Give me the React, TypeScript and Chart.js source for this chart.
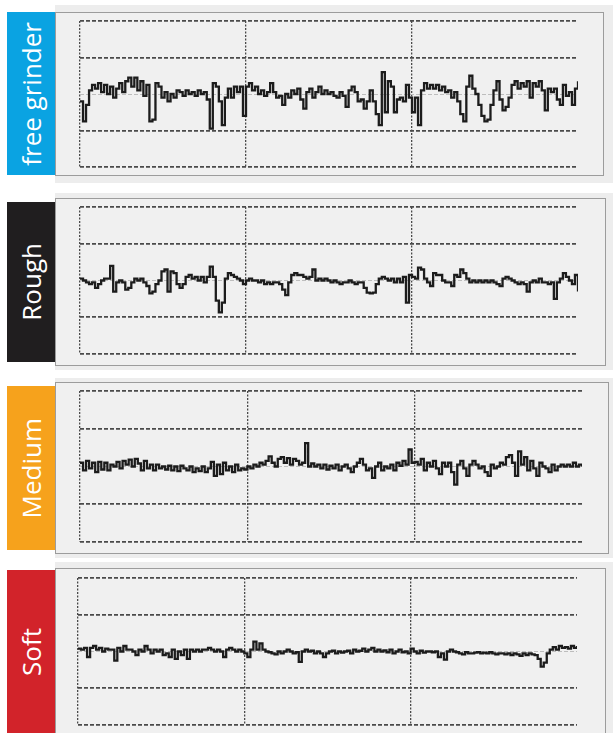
import React, { useEffect, useRef } from "react";
import { Chart, registerables } from "chart.js";

Chart.register(...registerables);

// ---- data ----
const PANEL_NAMES = ["free grinder", "Rough", "Medium", "Soft"];
const PANEL_COLORS = ["#0aa3e2", "#201e1f", "#f6a21c", "#d2232a"];
const Y_TICKS = [-2, -1, 0, 1, 2];

const FREE_GRINDER = [
  -0.2, -0.75, -0.3, 0.1, 0.25, 0.15, 0.3, 0.05, 0.25, 0.0,
  0.2, -0.1, 0.15, 0.3, 0.05, 0.35, 0.45, 0.2, 0.45, 0.1,
  0.35, -0.05, 0.25, -0.75, -0.7, 0.3, 0.2, -0.1, 0.05, -0.2,
  0.0, -0.1, 0.1, 0.05, -0.05, 0.1, 0.0, 0.05, -0.05, 0.1,
  0.0, 0.05, -0.15, -0.95, 0.3, 0.2, -0.2, -0.85, -0.1, 0.15,
  -0.1, 0.2, 0.05, 0.2, -0.6,
  0.2, 0.3, 0.1, 0.2, 0.0, 0.1, -0.05, 0.05, 0.3, 0.05,
  -0.1, -0.05, -0.3, 0.0, -0.1, 0.1, 0.0, 0.15, -0.15, -0.4,
  0.05, 0.15, -0.1, 0.05, 0.2, 0.0, 0.1, 0.0, 0.05, -0.05,
  -0.1, 0.05, -0.05, -0.35, 0.1, 0.2, 0.05, -0.2, -0.15, -0.4,
  -0.2, 0.1, -0.2, -0.55, -0.85, 0.6, -0.5, 0.35, 0.2, -0.5,
  -0.15, -0.1, -0.2, 0.25, -0.1,
  -0.5, -0.1, -0.85, 0.1, 0.3, 0.15, 0.25, 0.15, 0.25, 0.1,
  0.2, 0.05, 0.1, -0.1, 0.05, -0.2, -0.55, -0.75, 0.2, 0.5,
  0.15, 0.0, -0.3, -0.6, -0.75, -0.7, -0.3, 0.1, 0.35, -0.15,
  -0.45, -0.35, -0.1, 0.25, 0.35, 0.15, 0.3, 0.2, 0.35, -0.1,
  0.3, 0.2, 0.35, 0.1, -0.45, 0.15, 0.05, 0.15, -0.15, -0.3,
  0.25, -0.05, 0.05, -0.3, 0.15, 0.35,
];

const ROUGH = [
  0.05, 0.0, -0.05, -0.1, -0.05, -0.2, -0.1, 0.0, 0.05, 0.05,
  0.4, -0.3, -0.05, 0.0, -0.05, -0.25, -0.2, -0.05, 0.05, 0.0,
  0.05, -0.05, -0.15, -0.35, -0.3, -0.1, 0.0, 0.25, 0.3, -0.3,
  0.25, 0.2, -0.1, -0.2, -0.1, 0.1, 0.15, 0.05, 0.1, 0.0,
  0.1, -0.05, 0.1, 0.38, 0.1, -0.55, -0.87, -0.6, 0.05, 0.2,
  0.15, 0.1, 0.05, 0.0, -0.1,
  0.0, 0.05, 0.0, 0.0, -0.05, 0.0, -0.1, -0.05, -0.1, -0.05,
  -0.05, -0.1, -0.25, -0.4, -0.05, 0.15, 0.2, 0.15, 0.15, 0.1,
  0.05, 0.1, 0.3, 0.0, 0.05, 0.0,
  0.05, 0.0, -0.05, 0.0, -0.05, -0.1, -0.05, -0.05, 0.0, -0.05,
  -0.1, -0.05, -0.05, -0.2, -0.33, -0.35, -0.33, -0.1, 0.05, 0.1,
  0.05, 0.0, 0.05, -0.05, 0.05, -0.05, 0.1, -0.6, 0.15,
  0.1, 0.05, 0.35, 0.3, 0.05, -0.05, -0.15, 0.2, 0.15, 0.15,
  0.0, -0.05, -0.05, -0.15, 0.15, 0.1, 0.3, 0.2, 0.05, -0.05,
  0.0, -0.05, 0.0, -0.05, 0.0, -0.05, 0.0, -0.05, -0.1, -0.15,
  0.05, 0.1, 0.05, 0.0, -0.05, -0.1, -0.05, -0.1, -0.3, -0.05,
  0.0, -0.05, 0.05, -0.05, -0.05, -0.1, -0.05, -0.5, -0.05, 0.05,
  0.2, 0.1, 0.0, -0.1, 0.15, -0.3,
];

const MEDIUM = [
  0.1, -0.1, 0.15, -0.05, 0.1, -0.15, 0.12, -0.08, 0.1, -0.1, 0.05,
  0.0, 0.12, -0.05, 0.15, 0.05, 0.18, 0.0, 0.2, 0.08, -0.1,
  0.15, -0.05, 0.05, -0.1, 0.05, -0.05, 0.0, -0.08, 0.02, -0.1,
  0.0, -0.12, 0.02, -0.05, -0.1, 0.0, -0.15, -0.05, -0.12, 0.0,
  -0.15, -0.05, 0.12, -0.25, 0.05, -0.2, 0.1, -0.1, 0.0, -0.15, 0.05, -0.1, -0.05, -0.08,
  0.0, -0.05, 0.05, 0.0, 0.1, 0.05, 0.15, 0.27, 0.1, 0.0,
  0.2, 0.25, 0.1, 0.22, 0.05, 0.2, 0.15, 0.05, 0.1, 0.62,
  0.0, 0.08, 0.0, 0.05, -0.05, 0.05, -0.08, 0.02, -0.05, 0.05,
  -0.1, 0.0, 0.05, -0.05, -0.15, 0.0, 0.1, 0.2, 0.05, -0.1,
  -0.05, -0.3, 0.0, 0.1, -0.1, 0.0, -0.05, 0.05, -0.1, 0.1,
  0.02, 0.15, 0.05, 0.45, 0.1,
  0.12, 0.05, 0.2, -0.1, 0.1, 0.0, 0.15, -0.05, -0.2, 0.1,
  0.0, 0.1, -0.15, -0.48, 0.05, 0.15, -0.05, -0.25, 0.05, 0.15,
  0.05, -0.05, 0.0, -0.15, -0.25, 0.05, -0.05, 0.0, 0.1, 0.05,
  0.25, 0.3, 0.1, -0.25, 0.4, 0.05, 0.25, -0.1, 0.15, -0.05,
  -0.25, 0.1, 0.0, -0.05, -0.15, 0.05, -0.1, 0.0, 0.05, 0.0,
  0.05, 0.0, 0.1, 0.0, 0.05, 0.0,
];

const SOFT = [
  0.08, 0.05, 0.1, -0.15, 0.1, 0.15, 0.05, 0.1, 0.0, 0.08,
  0.05, 0.05, -0.25, 0.1, 0.0, 0.15, 0.05, 0.05, 0.0, -0.1,
  0.05, 0.0, 0.15, 0.05, -0.05, 0.05, 0.0, 0.05, -0.1, -0.05,
  -0.15, 0.05, -0.2, 0.0, -0.1, 0.05, -0.2, 0.05, 0.0, 0.05,
  0.0, 0.05, 0.05, 0.1, 0.05, 0.0, 0.05, 0.0, -0.15, 0.05,
  0.1, 0.05, 0.0, 0.05, 0.0,
  -0.05, -0.15, 0.05, 0.27, 0.05, 0.22, 0.05, 0.0, -0.02, -0.05,
  -0.08, 0.0, -0.05, 0.0, 0.05, 0.0, -0.05, -0.02, -0.28, 0.0,
  0.05, 0.0, 0.02, -0.05, 0.0, -0.05, -0.15, -0.05, 0.0, 0.02,
  -0.05, 0.0, -0.03, 0.0, 0.02, -0.05, 0.05, 0.0, 0.02, 0.08,
  0.0, 0.05, 0.1, 0.0, 0.05, 0.0, 0.03, -0.02, 0.05, -0.05,
  0.0, 0.05, -0.02, 0.0, -0.05,
  0.08, 0.0, -0.05, 0.02, -0.03, 0.0, 0.0, -0.02, 0.0, -0.15,
  -0.05, -0.22, 0.0, 0.05, 0.0, -0.02, -0.05, -0.08, -0.02, -0.05,
  -0.05, -0.03, -0.02, -0.05, -0.03, -0.05, -0.02, -0.05, -0.08, -0.05,
  -0.05, -0.08, -0.05, -0.1, -0.05, -0.08, -0.12, -0.05, -0.1, -0.05,
  -0.08, -0.1, -0.2, -0.41, -0.3, -0.05, 0.05, 0.12, 0.05, 0.15,
  0.1, 0.12, 0.08, 0.15, 0.1, 0.15,
];

const SERIES = [FREE_GRINDER, ROUGH, MEDIUM, SOFT];

// ---- layout (px in the 614x733 page) ----
const LAYOUT = [
  { label: [12, 175], page: [5, 183], box: [12, 176, 604], grid: [80, 578, 21, 167] },
  { label: [202, 362], page: [193, 370], box: [198, 366, 606], grid: [80, 578, 207, 354] },
  { label: [386, 550], page: [378, 558], box: [382, 554, 609], grid: [80, 582, 391, 542] },
  { label: [570, 733], page: [562, 733], box: [568, 745, 606], grid: [78, 577, 578, 725] },
];

const PAD = 3;

function Trace({ values, left, right, top, bottom }: any) {
  const ref = useRef<HTMLCanvasElement>(null);
  const w = right - left + PAD * 2;
  const h = bottom - top + PAD * 2;
  useEffect(() => {
    const n = values.length - 1;
    const chart = new Chart(ref.current as HTMLCanvasElement, {
      type: "line",
      data: {
        datasets: [
          {
            data: values.map((v: number, i: number) => ({ x: i, y: v })),
            borderColor: "#1c1c1c",
            borderWidth: 2.3,
            pointRadius: 0,
            stepped: true,
            fill: false,
            borderJoinStyle: "miter",
          },
        ],
      },
      options: {
        animation: false,
        responsive: false,
        events: [],
        layout: { padding: PAD },
        plugins: { legend: { display: false }, tooltip: { enabled: false } },
        scales: {
          x: {
            type: "linear",
            min: 0,
            max: n,
            afterBuildTicks: (a: any) => {
              a.ticks = [0, n / 3, (2 * n) / 3].map((v) => ({ value: v }));
            },
            ticks: { display: false },
            grid: { color: "#4a4a4a", lineWidth: 1.3, drawTicks: false },
            border: { display: false, dash: [2, 1.5] },
          },
          y: {
            type: "linear",
            min: -2,
            max: 2,
            afterBuildTicks: (a: any) => {
              a.ticks = Y_TICKS.map((v) => ({ value: v }));
            },
            ticks: { display: false },
            grid: {
              color: (c: any) => (c.tick && c.tick.value === 0 ? "#bdbdbd" : "#4a4a4a"),
              lineWidth: (c: any) => (c.tick && c.tick.value === 0 ? 1 : 1.7),
              drawTicks: false,
            },
            border: { display: false, dash: [4, 2] },
          },
        },
      },
    } as any);
    return () => chart.destroy();
  }, [values]);
  return (
    <canvas
      ref={ref}
      width={w}
      height={h}
      style={{ position: "absolute", left: left - PAD, top: top - PAD, width: w, height: h }}
    />
  );
}

export default function App() {
  return (
    <div
      style={{
        position: "absolute",
        left: 0,
        top: 0,
        width: 614,
        height: 733,
        overflow: "hidden",
        background: "#ffffff",
      }}
    >
      {LAYOUT.map((L, k) => (
        <React.Fragment key={k}>
          <div
            style={{
              position: "absolute",
              left: 55,
              top: L.page[0],
              width: 558,
              height: L.page[1] - L.page[0],
              background: "#ededed",
            }}
          />
          <div
            style={{
              position: "absolute",
              left: 55,
              top: L.box[0],
              width: L.box[2] - 55,
              height: L.box[1] - L.box[0],
              border: "1.5px solid #9c9c9c",
              boxSizing: "border-box",
              background: "#f0f0f0",
            }}
          />
          <div
            style={{
              position: "absolute",
              left: 7,
              top: L.label[0],
              width: 48,
              height: L.label[1] - L.label[0],
              background: PANEL_COLORS[k],
              display: "flex",
              alignItems: "center",
              justifyContent: "center",
            }}
          >
            <span
              style={{
                writingMode: "vertical-rl",
                transform: "rotate(180deg)",
                color: "#ffffff",
                fontFamily: "'Open Sans', 'Noto Sans', sans-serif",
                fontSize: 26,
                lineHeight: 1,
                whiteSpace: "nowrap",
              }}
            >
              {PANEL_NAMES[k]}
            </span>
          </div>
          <Trace
            values={SERIES[k]}
            left={L.grid[0]}
            right={L.grid[1]}
            top={L.grid[2]}
            bottom={L.grid[3]}
          />
        </React.Fragment>
      ))}
    </div>
  );
}
